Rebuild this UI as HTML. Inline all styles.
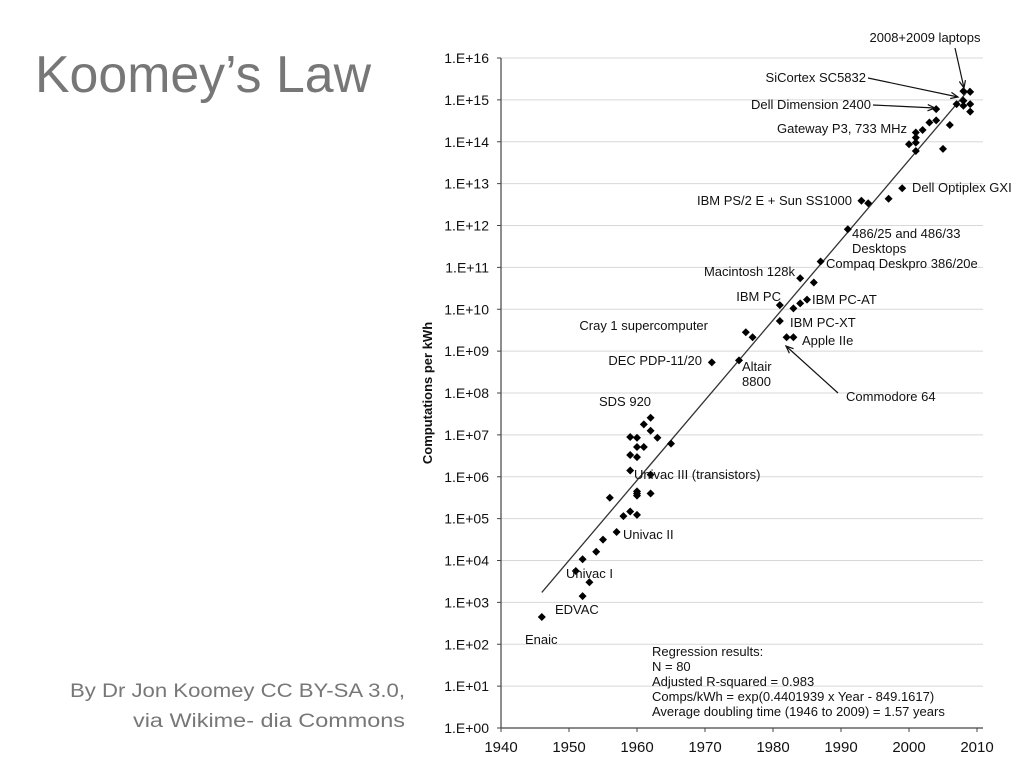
<!DOCTYPE html>
<html><head><meta charset="utf-8"><style>
body{margin:0;background:#fff;}
svg text{font-family:"Liberation Sans",Arial,sans-serif;}
</style></head><body>
<svg id="chart" width="1020" height="766" xmlns="http://www.w3.org/2000/svg">
<text x="35" y="92" font-size="52" fill="#777" textLength="336" lengthAdjust="spacingAndGlyphs" font-family="DejaVu Sans">Koomey’s Law</text>
<text x="405" y="697" font-size="19" fill="#777" text-anchor="end" font-family="DejaVu Sans" textLength="335" lengthAdjust="spacingAndGlyphs">By Dr Jon Koomey CC BY-SA 3.0,</text>
<text x="405" y="727" font-size="19" fill="#777" text-anchor="end" font-family="DejaVu Sans" textLength="272" lengthAdjust="spacingAndGlyphs">via Wikime- dia Commons</text>
<g id="grid"></g>
<g id="axes"></g>
<g id="marks"></g>
<g id="ann" font-size="13" fill="#111"></g>
</svg>
<script>
const xTicks=[1940,1950,1960,1970,1980,1990,2000,2010];
const yTickExps=[0,1,2,3,4,5,6,7,8,9,10,11,12,13,14,15,16];
const years=[1946,1951,1952,1953,1952,1954,1955,1956,1957,1958,1959,1960,1959,1959,1960,1959,1960,1960,1961,1961,1962,1962,1963,1965,1962,1960,1960,1960,1962,1971,1975,1976,1977,1982,1983,1981,1983,1984,1985,1984,1986,1987,1981,1991,1993,1994,1997,1999,2000,2001,2001,2001,2001,2002,2003,2004,2004,2006,2005,2007,2008,2008,2008,2009,2009,2009];
const logComps=[2.65,3.75,4.03,3.48,3.15,4.21,4.5,5.5,4.68,5.06,5.17,5.09,6.15,6.52,6.47,6.95,6.93,6.71,6.71,7.25,7.41,7.1,6.93,6.79,6.05,5.65,5.6,5.55,5.6,8.73,8.78,9.45,9.33,9.33,9.33,10.1,10.02,10.14,10.23,10.74,10.64,11.14,9.72,11.91,12.59,12.53,12.64,12.89,13.94,13.98,14.1,14.22,13.78,14.28,14.46,14.51,14.78,14.4,13.83,14.9,14.98,14.86,15.21,15.19,14.9,14.72];
const regSlope=0.4401939, regIntercept=-849.1617, regStart=1946, regEnd=2009;
const X0=501,X1=977,Y0=728,Y1=58;
const xs=v=>X0+(v-1940)/(2010-1940)*(X1-X0);
const ys=e=>Y0-(e-0)/(16-0)*(Y0-Y1);
const NS="http://www.w3.org/2000/svg";
function mk(tag,attrs,parent,txt){const e=document.createElementNS(NS,tag);for(const k in attrs)e.setAttribute(k,attrs[k]);if(txt!=null)e.textContent=txt;parent.appendChild(e);return e;}
const grid=document.getElementById('grid'),axes=document.getElementById('axes'),marks=document.getElementById('marks'),ann=document.getElementById('ann');
yTickExps.forEach(e=>{
 if(e>0){const l=mk('line',{x1:X0,x2:983,y1:ys(e),y2:ys(e),stroke:'#d8d8d8','stroke-width':1},grid);
 
 }
 const t=mk('text',{x:489,y:ys(e)+5,'font-size':14,'text-anchor':'end',fill:'#111'},axes,'1.E+'+String(e).padStart(2,'0'));
 
 
 mk('line',{x1:X0-4,x2:X0,y1:ys(e),y2:ys(e),stroke:'#444'},axes);
});
mk('line',{x1:X0,x2:X0,y1:Y1,y2:Y0,stroke:'#444','stroke-width':1.2},axes);
mk('line',{x1:X0,x2:983,y1:Y0,y2:Y0,stroke:'#444','stroke-width':1.2},axes);
xTicks.forEach(v=>{
 mk('line',{x1:xs(v),x2:xs(v),y1:Y0,y2:Y0+4,stroke:'#444'},axes);
 const t=mk('text',{x:xs(v),y:Y0+24,'font-size':15,'text-anchor':'middle',fill:'#111'},axes,String(v));
 
 
});
const yt=mk('text',{x:0,y:0,'font-size':13,'font-weight':'bold','text-anchor':'middle',fill:'#111',transform:'translate(432,393) rotate(-90)'},axes,'Computations per kWh');


const rl=mk('line',{x1:xs(regStart),y1:ys((regSlope*regStart+regIntercept)/Math.LN10),x2:xs(regEnd),y2:ys((regSlope*regEnd+regIntercept)/Math.LN10),stroke:'#333','stroke-width':1.3},marks);


years.forEach((yr,i)=>{
 const cx=xs(yr),cy=ys(logComps[i]),r=4;
 const p=mk('path',{d:`M${cx} ${cy-r}L${cx+r} ${cy}L${cx} ${cy+r}L${cx-r} ${cy}Z`,fill:'#000'},marks);
 
 
});
const labels=[
['2008+2009 laptops',925,42,'middle'],['SiCortex SC5832',866,82,'end'],['Dell Dimension 2400',871,109,'end'],
['Gateway P3, 733 MHz',777,133,'start'],['Dell Optiplex GXI',912,192,'start'],['IBM PS/2 E + Sun SS1000',852,205,'end'],
['486/25 and 486/33',852,238,'start'],['Desktops',852,253,'start'],['Compaq Deskpro 386/20e',826,268,'start'],
['Macintosh 128k',795,276,'end'],['IBM PC',781,301,'end'],['IBM PC-AT',812,304,'start'],['IBM PC-XT',790,327,'start'],
['Cray 1 supercomputer',708,330,'end'],['Apple IIe',802,345,'start'],['DEC PDP-11/20',702,365,'end'],
['Altair',742,371,'start'],['8800',742,386,'start'],['Commodore 64',846,401,'start'],['SDS 920',599,406,'start'],
['Univac III (transistors)',634,479,'start'],['Univac II',623,539,'start'],['Univac I',566,578,'start'],
['EDVAC',555,614,'start'],['Enaic',525,644,'start'],
['Regression results:',652,656,'start'],['N = 80',652,671,'start'],['Adjusted R-squared = 0.983',652,686,'start'],
['Comps/kWh = exp(0.4401939 x Year - 849.1617)',652,701,'start'],['Average doubling time (1946 to 2009) = 1.57 years',652,716,'start']];
labels.forEach(l=>{const t=mk('text',{x:l[1],y:l[2],'text-anchor':l[3]},ann,l[0]);
 
 });
const arrows=[[955,48,964,88],[868,78,958,97],[873,105,935,108],[838,393,786,346]];
arrows.forEach(a=>{
 mk('line',{x1:a[0],y1:a[1],x2:a[2],y2:a[3],stroke:'#111','stroke-width':1.2},ann);
 const ang=Math.atan2(a[3]-a[1],a[2]-a[0]),L=8;
 const p1=[a[2]-L*Math.cos(ang-0.4),a[3]-L*Math.sin(ang-0.4)],p2=[a[2]-L*Math.cos(ang+0.4),a[3]-L*Math.sin(ang+0.4)];
 const ar=mk('polyline',{points:`${p1} ${a[2]},${a[3]} ${p2}`,fill:'none',stroke:'#111','stroke-width':1.2},ann);
 
 
});
</script>
</body></html>
